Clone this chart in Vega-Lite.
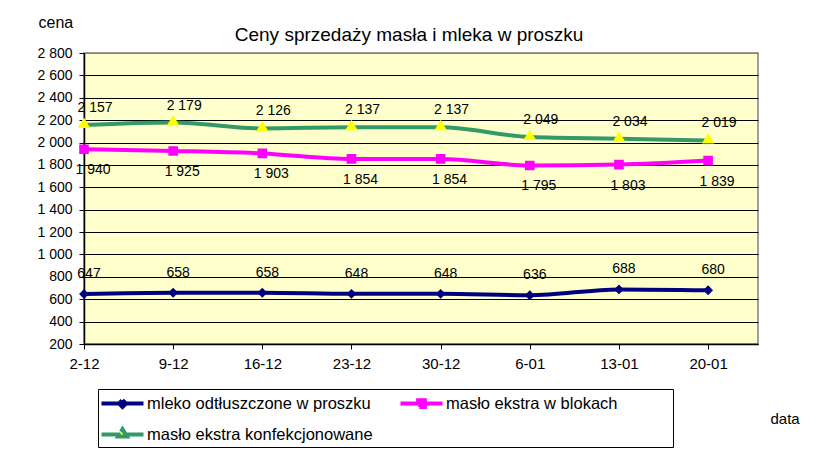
{
  "$schema": "https://vega.github.io/schema/vega-lite/v6.json",
  "width": 674,
  "height": 291,
  "autosize": {"type": "none"},
  "padding": {"left": 84, "top": 53, "right": 70, "bottom": 116},
  "background": "white",
  "config": {
    "font": "Liberation Sans",
    "locale": {"number": {"decimal": ",", "thousands": " ", "grouping": [3], "currency": ["", " zł"]}},
    "view": {"fill": "#FFFFCC", "stroke": "#808080", "strokeWidth": 1.5},
    "legend": {
      "orient": "none",
      "legendX": 14,
      "legendY": 336,
      "direction": "horizontal",
      "columns": 2,
      "titleOrient": "right",
      "titleOpacity": 0,
      "titlePadding": 50,
      "symbolSize": 441,
      "symbolStrokeWidth": 4,
      "symbolDash": [19, 4, 19, 1000],
      "symbolOpacity": 1,
      "symbolOffset": 10,
      "labelFontSize": 16.5,
      "labelColor": "black",
      "labelOffset": 12,
      "labelLimit": 400,
      "columnPadding": 19,
      "rowPadding": 6,
      "padding": 2,
      "strokeColor": "black"
    }
  },
  "title": {
    "text": "Ceny sprzedaży masła i mleka w proszku",
    "font": "Liberation Sans",
    "fontSize": 19,
    "fontWeight": "normal",
    "color": "black",
    "anchor": "middle",
    "dx": -12,
    "offset": 0,
    "dy": 31
  },
  "data": {
    "values": [
      {"data": "2013-12-02", "seria": "mleko odtłuszczone w proszku", "cena": 647},
      {"data": "2013-12-09", "seria": "mleko odtłuszczone w proszku", "cena": 658},
      {"data": "2013-12-16", "seria": "mleko odtłuszczone w proszku", "cena": 658},
      {"data": "2013-12-23", "seria": "mleko odtłuszczone w proszku", "cena": 648},
      {"data": "2013-12-30", "seria": "mleko odtłuszczone w proszku", "cena": 648},
      {"data": "2014-01-06", "seria": "mleko odtłuszczone w proszku", "cena": 636},
      {"data": "2014-01-13", "seria": "mleko odtłuszczone w proszku", "cena": 688},
      {"data": "2014-01-20", "seria": "mleko odtłuszczone w proszku", "cena": 680},
      {"data": "2013-12-02", "seria": "masło ekstra w blokach", "cena": 1940},
      {"data": "2013-12-09", "seria": "masło ekstra w blokach", "cena": 1925},
      {"data": "2013-12-16", "seria": "masło ekstra w blokach", "cena": 1903},
      {"data": "2013-12-23", "seria": "masło ekstra w blokach", "cena": 1854},
      {"data": "2013-12-30", "seria": "masło ekstra w blokach", "cena": 1854},
      {"data": "2014-01-06", "seria": "masło ekstra w blokach", "cena": 1795},
      {"data": "2014-01-13", "seria": "masło ekstra w blokach", "cena": 1803},
      {"data": "2014-01-20", "seria": "masło ekstra w blokach", "cena": 1839},
      {"data": "2013-12-02", "seria": "masło ekstra konfekcjonowane", "cena": 2157},
      {"data": "2013-12-09", "seria": "masło ekstra konfekcjonowane", "cena": 2179},
      {"data": "2013-12-16", "seria": "masło ekstra konfekcjonowane", "cena": 2126},
      {"data": "2013-12-23", "seria": "masło ekstra konfekcjonowane", "cena": 2137},
      {"data": "2013-12-30", "seria": "masło ekstra konfekcjonowane", "cena": 2137},
      {"data": "2014-01-06", "seria": "masło ekstra konfekcjonowane", "cena": 2049},
      {"data": "2014-01-13", "seria": "masło ekstra konfekcjonowane", "cena": 2034},
      {"data": "2014-01-20", "seria": "masło ekstra konfekcjonowane", "cena": 2019}
    ]
  },
  "encoding": {
    "x": {
      "field": "data",
      "type": "temporal",
      "scale": {
        "type": "utc",
        "domain": [
          {"year": 2013, "month": 12, "date": 2, "utc": true},
          {"year": 2014, "month": 1, "date": 23, "hours": 22, "utc": true}
        ]
      },
      "axis": {
        "title": "data",
        "format": "%-d-%m",
        "values": [
          {"year": 2013, "month": 12, "date": 2, "utc": true},
          {"year": 2013, "month": 12, "date": 9, "utc": true},
          {"year": 2013, "month": 12, "date": 16, "utc": true},
          {"year": 2013, "month": 12, "date": 23, "utc": true},
          {"year": 2013, "month": 12, "date": 30, "utc": true},
          {"year": 2014, "month": 1, "date": 6, "utc": true},
          {"year": 2014, "month": 1, "date": 13, "utc": true},
          {"year": 2014, "month": 1, "date": 20, "utc": true}
        ],
        "grid": false,
        "labelFontSize": 15,
        "labelColor": "black",
        "labelPadding": 7,
        "labelFlush": false,
        "labelOverlap": false,
        "tickColor": "black",
        "tickSize": 5,
        "domainColor": "black",
        "domainWidth": 1.5,
        "titleFontSize": 15,
        "titleFontWeight": "normal",
        "titleColor": "black",
        "titleAnchor": null,
        "titleX": 686,
        "titleY": 79,
        "titleAlign": "left",
        "titleBaseline": "alphabetic"
      }
    },
    "y": {
      "field": "cena",
      "type": "quantitative",
      "scale": {"domain": [200, 2800], "nice": false, "zero": false},
      "axis": {
        "title": "cena",
        "titleAngle": 0,
        "titleX": -46,
        "titleY": -26,
        "titleAlign": "left",
        "titleBaseline": "alphabetic",
        "titleFontSize": 16,
        "titleFontWeight": "normal",
        "titleColor": "black",
        "values": [200, 400, 600, 800, 1000, 1200, 1400, 1600, 1800, 2000, 2200, 2400, 2600, 2800],
        "format": ",d",
        "labelFontSize": 14,
        "labelColor": "black",
        "labelPadding": 7,
        "tickSize": 5,
        "tickColor": "black",
        "domainColor": "black",
        "domainWidth": 1.5,
        "grid": true,
        "gridColor": {"condition": {"test": "datum.value == 2800", "value": "#808080"}, "value": "black"},
        "gridWidth": 1,
        "gridOpacity": 1
      }
    }
  },
  "layer": [
    {
      "mark": {"type": "line", "interpolate": "monotone", "strokeWidth": 4},
      "encoding": {
        "stroke": {
          "field": "seria",
          "type": "nominal",
          "scale": {
            "domain": ["mleko odtłuszczone w proszku", "masło ekstra w blokach", "masło ekstra konfekcjonowane"],
            "range": ["#000080", "#FF00FF", "#339966"]
          },
          "legend": {"title": "."}
        }
      }
    },
    {
      "mark": {"type": "point", "filled": true, "size": 900, "opacity": 1, "strokeWidth": 0},
      "encoding": {
        "color": {
          "field": "seria",
          "type": "nominal",
          "scale": {
            "domain": ["mleko odtłuszczone w proszku", "masło ekstra w blokach", "masło ekstra konfekcjonowane"],
            "range": ["#000080", "#FF00FF", "#FFFF00"]
          },
          "legend": {"title": "."}
        },
        "shape": {
          "field": "seria",
          "type": "nominal",
          "scale": {
            "domain": ["mleko odtłuszczone w proszku", "masło ekstra w blokach", "masło ekstra konfekcjonowane"],
            "range": [
              "M-2,0H2M0,-0.33L0.33,0L0,0.33L-0.33,0Z",
              "M-2,0H2M-0.32,-0.32H0.32V0.32H-0.32Z",
              "M-2,0H2M0,-0.5L0.42,0.2L-0.42,0.2Z"
            ]
          },
          "legend": {"title": "."}
        }
      }
    },
    {
      "transform": [{"filter": {"field": "seria", "equal": "masło ekstra konfekcjonowane"}}],
      "mark": {"type": "text", "dy": -17, "dx": 11, "fontSize": 14, "color": "black"},
      "encoding": {"text": {"field": "cena", "type": "quantitative", "format": ",d"}}
    },
    {
      "transform": [{"filter": {"field": "seria", "equal": "masło ekstra w blokach"}}],
      "mark": {"type": "text", "dy": 21, "dx": 9, "fontSize": 14, "color": "black"},
      "encoding": {"text": {"field": "cena", "type": "quantitative", "format": ",d"}}
    },
    {
      "transform": [{"filter": {"field": "seria", "equal": "mleko odtłuszczone w proszku"}}],
      "mark": {"type": "text", "dy": -20, "dx": 5, "fontSize": 14, "color": "black"},
      "encoding": {"text": {"field": "cena", "type": "quantitative", "format": ",d"}}
    }
  ]
}
